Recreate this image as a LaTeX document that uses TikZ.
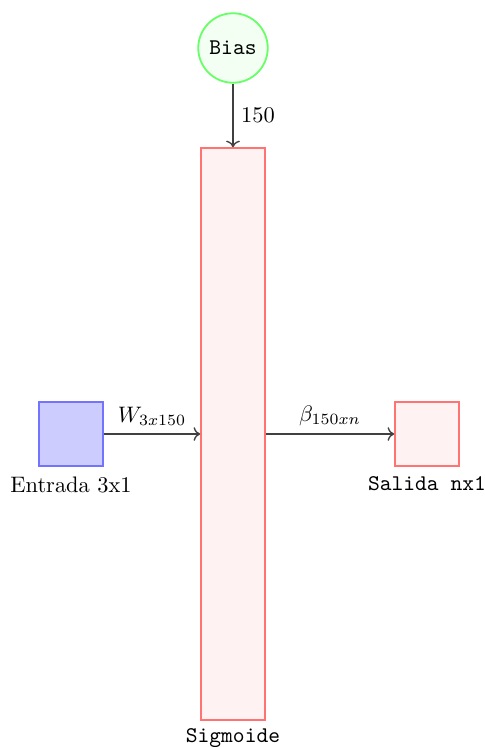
\documentclass[tikz,border=0pt]{standalone}
\usetikzlibrary{positioning, arrows.meta}
\begin{document}
\begin{tikzpicture}[x=0.446pt, y=-0.446pt,
  capa/.style={draw=red!55, fill=red!5, thick, inner sep=0pt},
  entrada/.style={draw=blue!55, fill=blue!20, thick, minimum size=28.5pt, inner sep=0pt},
  neurona/.style={circle, draw=green!60, fill=green!5, thick, minimum size=31pt, inner sep=0pt},
  flecha/.style={->, draw=black!75, semithick}]
  \useasboundingbox (0,0) rectangle (484,747);
  % nodos
  \node[neurona, font=\ttfamily] (bias) at (233,48) {Bias};
  \node[capa, minimum width=28.5pt, minimum height=255pt] (sig) at (233,434) {};
  \node[entrada] (ent) at (71,434) {};
  \node[capa, minimum size=28.5pt] (sal) at (427,434) {};
  % etiquetas
  \node[below=1pt of ent] (lblent) {Entrada 3x1};
  \node[below=1pt of sal, font=\ttfamily] (lblsal) {Salida nx1};
  \node[below=0pt of sig, font=\ttfamily] (lblsig) {Sigmoide};
  % conexiones
  \draw[flecha] (bias) -- node[right] {150} (sig);
  \draw[flecha] (ent) -- node[above] {$W_{3x150}$} (ent -| sig.west);
  \draw[flecha] (sig.east |- sal) -- node[above] {$\beta_{150xn}$} (sal);
\end{tikzpicture}
\end{document}
